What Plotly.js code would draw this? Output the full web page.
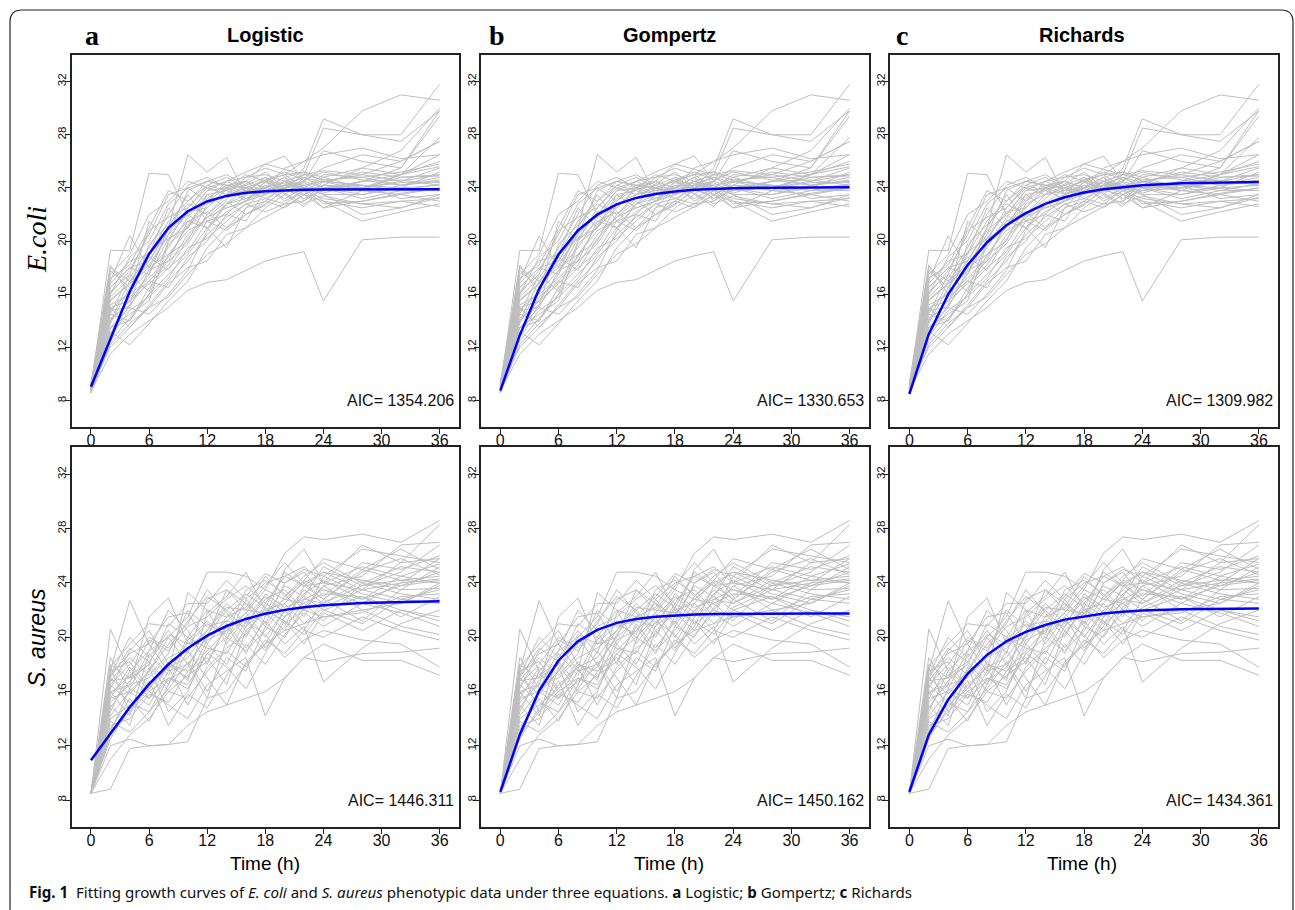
<!DOCTYPE html>
<html>
<head>
<meta charset="utf-8">
<script src="https://cdn.plot.ly/plotly-3.0.1.min.js"></script>
<style>
  html, body { margin: 0; padding: 0; background: #ffffff; }
  #fig { width: 1295px; height: 910px; }
</style>
</head>
<body>
<div id="fig"></div>
<script>
// Sampling times (h)
const hours = [0, 2, 4, 6, 8, 10, 12, 14, 16, 18, 20, 22, 24, 28, 32, 36];

// Observed phenotype trajectories, one row per strain, values at `hours`
const ecoliCurves = [
  [8.7, 11.5, 13.0, 14.0, 15.0, 16.3, 16.9, 17.1, 17.8, 18.5, 18.9, 19.2, 15.5, 20.1, 20.3, 20.3],
  [9.0, 19.3, 19.3, 25.1, 25.0, 22.0, 21.0, 22.8, 23.5, 24.0, 24.5, 25.0, 28.5, 28.0, 28.0, 31.8],
  [9.2, 16.5, 18.0, 17.5, 21.0, 26.5, 25.2, 26.3, 23.5, 24.0, 24.8, 23.8, 24.5, 25.0, 26.0, 27.5],
  [8.9, 14.0, 15.5, 16.8, 18.2, 20.5, 21.8, 22.5, 23.0, 24.5, 25.0, 26.0, 27.0, 29.8, 31.0, 30.6],
  [9.1, 13.2, 12.2, 13.8, 15.5, 17.0, 19.5, 21.0, 22.0, 22.7, 24.0, 25.5, 29.2, 28.0, 27.5, 29.8],
  [8.8, 15.8, 17.2, 19.5, 22.0, 24.2, 24.8, 24.0, 24.5, 25.8, 26.4, 24.5, 26.8, 26.0, 25.5, 29.4],
  [9.0, 17.0, 20.4, 18.0, 20.5, 23.8, 24.5, 24.2, 23.6, 24.8, 23.5, 22.6, 24.2, 25.5, 26.8, 30.0],
  [9.3, 18.2, 16.0, 21.5, 20.0, 22.5, 24.0, 24.5, 24.8, 25.5, 25.0, 25.2, 24.8, 24.0, 25.0, 27.8],
  [8.6, 12.5, 14.2, 16.0, 17.5, 19.0, 21.0, 22.2, 23.0, 23.8, 24.2, 24.0, 23.8, 24.5, 24.6, 24.2],
  [9.0, 14.8, 15.0, 17.8, 19.5, 21.8, 23.5, 23.8, 24.5, 24.0, 24.8, 25.2, 24.5, 24.2, 24.0, 23.8],
  [8.7, 13.5, 14.5, 15.5, 19.8, 21.0, 22.5, 23.9, 24.2, 23.5, 24.5, 24.0, 25.0, 24.8, 25.2, 25.8],
  [9.2, 16.0, 17.8, 20.5, 23.5, 24.0, 23.0, 24.5, 25.2, 25.8, 25.4, 25.0, 25.3, 25.0, 24.5, 25.5],
  [8.8, 15.0, 13.5, 15.2, 17.0, 18.5, 20.5, 21.8, 22.8, 23.2, 24.0, 24.5, 24.0, 23.5, 24.2, 24.5],
  [9.1, 13.8, 16.5, 18.5, 20.8, 22.0, 23.8, 24.0, 23.5, 24.2, 23.8, 24.2, 24.5, 23.8, 23.5, 24.0],
  [8.9, 17.5, 19.0, 22.0, 23.0, 24.5, 24.0, 23.5, 24.8, 25.0, 24.5, 23.8, 23.2, 22.8, 23.0, 23.2],
  [9.0, 14.5, 14.0, 16.5, 18.0, 19.2, 21.5, 20.8, 22.0, 23.0, 22.5, 23.5, 24.2, 24.0, 24.5, 25.0],
  [8.6, 13.0, 15.8, 17.0, 16.5, 18.8, 20.0, 22.0, 21.5, 23.8, 24.5, 24.2, 23.0, 22.5, 23.0, 22.6],
  [9.3, 16.8, 18.5, 19.0, 21.5, 23.0, 24.2, 24.8, 24.0, 23.6, 24.2, 24.8, 24.0, 24.5, 25.0, 26.0],
  [8.8, 15.5, 16.8, 18.0, 19.0, 20.0, 22.8, 23.5, 24.0, 24.5, 23.8, 24.0, 23.5, 22.0, 22.5, 23.5],
  [9.0, 12.0, 13.5, 15.0, 16.8, 18.0, 18.5, 20.5, 21.0, 22.5, 23.5, 24.8, 24.0, 24.2, 23.8, 24.3],
  [9.1, 14.2, 15.2, 19.8, 21.2, 22.8, 22.0, 23.5, 23.8, 24.6, 25.0, 24.0, 24.8, 25.5, 25.0, 25.6],
  [8.7, 16.2, 17.5, 16.2, 20.0, 21.5, 21.0, 19.5, 22.5, 23.0, 24.2, 24.5, 25.5, 26.5, 26.0, 27.5],
  [9.2, 15.2, 16.0, 17.2, 18.8, 21.2, 23.2, 24.2, 24.5, 23.5, 24.0, 23.2, 23.8, 24.0, 24.8, 24.9],
  [8.9, 13.5, 15.0, 14.5, 16.0, 17.8, 20.8, 22.8, 23.2, 24.0, 25.5, 26.0, 26.5, 27.0, 26.2, 26.5],
  [9.0, 17.8, 16.5, 19.0, 22.5, 21.0, 23.5, 22.5, 23.0, 24.2, 23.0, 23.8, 22.5, 23.0, 23.5, 23.0],
  [8.6, 14.0, 17.0, 18.8, 17.8, 20.2, 21.8, 23.0, 22.0, 22.8, 23.8, 23.5, 24.2, 23.8, 24.0, 24.2],
  [9.3, 16.0, 18.8, 20.0, 22.8, 24.0, 24.5, 25.0, 24.2, 24.8, 24.0, 25.0, 24.6, 24.8, 24.2, 24.6],
  [8.8, 12.8, 14.8, 15.8, 17.2, 19.5, 20.2, 21.5, 22.8, 22.2, 22.8, 23.0, 24.0, 23.2, 23.8, 23.8],
  [9.0, 15.0, 15.5, 17.5, 20.2, 22.2, 22.5, 24.0, 23.0, 23.5, 24.5, 23.5, 23.0, 21.5, 22.2, 22.8],
  [9.1, 13.5, 14.0, 16.0, 19.0, 20.8, 21.5, 22.0, 23.5, 24.4, 24.0, 24.4, 23.6, 24.5, 25.5, 29.8],
  [8.7, 16.5, 18.0, 18.5, 21.0, 23.5, 21.5, 22.8, 24.0, 23.2, 22.8, 23.8, 24.2, 24.0, 24.4, 24.4],
  [9.2, 14.8, 16.2, 17.8, 18.5, 19.8, 22.0, 23.2, 24.3, 25.2, 24.0, 24.2, 23.5, 23.5, 24.0, 25.2],
  [8.9, 18.0, 17.0, 18.2, 20.5, 22.0, 23.8, 24.5, 23.8, 24.0, 24.8, 23.0, 24.5, 24.2, 23.2, 23.5],
  [9.0, 13.0, 15.2, 17.0, 18.5, 21.5, 22.2, 21.0, 22.5, 24.0, 23.2, 24.0, 22.8, 23.0, 23.6, 24.0],
  [8.8, 15.6, 16.8, 19.2, 20.2, 21.0, 23.0, 24.0, 25.0, 24.5, 24.3, 24.8, 24.4, 25.2, 24.8, 25.0],
  [9.1, 14.5, 17.5, 20.8, 21.8, 22.5, 24.2, 23.8, 23.2, 23.8, 23.6, 22.8, 23.4, 22.8, 22.5, 23.3],
  [8.6, 12.2, 13.8, 15.0, 15.8, 17.5, 19.0, 19.8, 21.0, 21.8, 22.6, 23.5, 22.5, 23.8, 25.0, 26.5],
  [9.3, 17.2, 18.2, 21.0, 23.8, 23.0, 24.5, 24.2, 24.0, 24.6, 25.2, 24.6, 25.2, 24.6, 24.2, 24.8]
];

const aureusCurves = [
  [8.5, 8.8, 11.8, 12.0, 12.1, 13.5, 14.5, 15.0, 15.5, 16.0, 17.0, 18.5, 18.2, 18.8, 18.9, 19.2],
  [8.5, 20.6, 17.5, 19.0, 20.0, 21.5, 24.8, 24.8, 24.5, 23.5, 26.2, 27.4, 27.2, 27.6, 27.0, 28.6],
  [8.5, 17.5, 22.7, 19.5, 17.5, 23.3, 22.0, 21.5, 23.0, 24.7, 24.0, 25.0, 24.5, 26.5, 26.0, 25.5],
  [8.5, 16.0, 16.5, 21.5, 22.9, 19.5, 20.0, 23.5, 22.5, 21.5, 25.0, 26.5, 24.0, 23.5, 25.5, 28.3],
  [8.5, 12.0, 12.5, 12.0, 12.1, 12.3, 15.5, 16.0, 18.0, 19.5, 20.5, 21.0, 21.5, 22.0, 22.5, 24.0],
  [8.5, 15.5, 17.8, 16.0, 15.0, 14.0, 16.5, 17.5, 18.5, 14.2, 17.0, 18.5, 19.5, 18.3, 18.3, 17.2],
  [8.5, 17.8, 14.5, 16.5, 17.8, 18.5, 20.5, 22.5, 21.0, 22.8, 23.5, 22.0, 23.8, 24.5, 26.8, 27.0],
  [8.5, 14.8, 16.8, 18.0, 21.0, 20.0, 22.0, 19.5, 21.5, 23.0, 21.8, 23.5, 22.5, 23.8, 24.2, 24.5],
  [8.5, 16.5, 15.2, 14.5, 17.0, 16.5, 18.8, 20.0, 19.0, 20.5, 22.5, 21.0, 22.2, 23.5, 22.8, 23.5],
  [8.5, 13.5, 14.0, 15.8, 15.2, 17.5, 18.5, 16.5, 20.5, 21.8, 20.5, 22.8, 23.5, 22.5, 24.0, 25.8],
  [8.5, 18.0, 17.0, 19.8, 19.0, 20.8, 21.5, 22.8, 23.8, 22.5, 24.5, 23.8, 22.8, 25.0, 24.2, 24.0],
  [8.5, 11.0, 12.8, 14.0, 16.0, 15.5, 17.5, 19.0, 17.8, 19.8, 18.8, 20.5, 20.0, 21.5, 20.5, 19.8],
  [8.5, 16.8, 18.5, 17.2, 18.8, 22.0, 20.8, 21.2, 22.5, 20.8, 23.0, 24.5, 25.5, 24.0, 25.2, 24.8],
  [8.5, 15.0, 13.5, 17.8, 14.5, 16.0, 19.5, 18.0, 20.8, 22.0, 21.2, 19.5, 21.8, 20.5, 22.0, 21.5],
  [8.5, 17.2, 20.0, 18.5, 20.5, 18.8, 22.8, 23.5, 22.0, 23.8, 25.5, 24.0, 24.8, 24.2, 23.5, 25.2],
  [8.5, 13.2, 15.5, 13.8, 16.5, 19.0, 17.0, 15.0, 18.2, 19.5, 22.0, 23.0, 22.0, 21.0, 22.8, 22.5],
  [8.5, 16.2, 19.0, 20.5, 18.0, 17.0, 19.8, 20.5, 21.8, 23.5, 22.8, 22.5, 23.2, 23.0, 21.5, 23.0],
  [8.5, 14.2, 16.0, 15.0, 17.5, 18.0, 15.5, 19.8, 22.8, 21.0, 24.0, 24.8, 23.0, 25.5, 25.0, 26.0],
  [8.5, 17.0, 15.8, 17.5, 19.5, 21.0, 23.5, 21.8, 20.0, 22.5, 21.5, 23.2, 24.2, 22.8, 23.8, 24.2],
  [8.5, 12.5, 14.8, 16.8, 13.5, 15.8, 14.8, 17.2, 19.5, 18.0, 20.2, 21.8, 20.8, 22.5, 21.8, 20.8],
  [8.5, 15.8, 17.2, 18.2, 20.2, 19.5, 21.0, 20.2, 23.5, 24.2, 23.2, 21.5, 24.5, 23.2, 22.5, 23.8],
  [8.5, 18.5, 16.2, 19.0, 22.0, 20.5, 18.0, 21.0, 19.2, 21.2, 19.5, 20.8, 16.7, 19.2, 21.0, 22.0],
  [8.5, 14.5, 17.5, 15.5, 16.8, 17.8, 20.2, 22.0, 20.5, 19.0, 21.5, 22.5, 21.2, 24.0, 23.2, 22.8],
  [8.5, 17.5, 18.2, 16.2, 18.2, 16.8, 21.8, 23.0, 24.8, 22.0, 22.5, 24.2, 25.8, 25.0, 26.5, 25.0],
  [8.5, 16.0, 14.2, 18.8, 17.2, 20.0, 19.2, 18.8, 21.2, 20.2, 18.5, 19.8, 20.5, 19.8, 19.5, 17.8],
  [8.5, 13.8, 13.0, 14.5, 16.2, 18.2, 16.0, 18.5, 17.5, 20.8, 20.0, 22.2, 23.8, 22.0, 20.8, 20.2],
  [8.5, 17.8, 19.5, 21.0, 20.8, 22.5, 22.5, 24.2, 22.8, 24.0, 24.5, 25.2, 24.0, 26.8, 25.5, 25.8],
  [8.5, 15.2, 16.5, 17.0, 18.5, 19.2, 20.5, 22.2, 22.0, 21.8, 22.8, 24.0, 22.8, 24.8, 25.8, 24.6],
  [8.5, 16.8, 17.0, 18.0, 16.0, 17.2, 18.2, 20.8, 18.8, 21.5, 23.8, 23.0, 25.2, 23.8, 24.8, 26.8],
  [8.5, 14.0, 15.0, 16.2, 17.8, 15.0, 17.8, 19.2, 20.2, 22.2, 21.0, 22.0, 21.5, 21.8, 23.0, 23.2],
  [8.5, 17.2, 18.8, 19.5, 21.5, 21.8, 19.5, 21.5, 22.2, 24.5, 23.0, 24.2, 23.5, 22.8, 24.5, 24.0],
  [8.5, 12.8, 14.5, 16.0, 17.0, 16.2, 18.8, 17.8, 16.2, 18.8, 21.2, 20.2, 22.0, 23.0, 22.0, 21.2],
  [8.5, 16.5, 18.0, 20.0, 19.2, 21.2, 23.0, 22.0, 23.2, 22.2, 24.8, 23.8, 24.8, 23.5, 24.0, 24.3],
  [8.5, 15.5, 16.0, 17.5, 20.0, 18.0, 20.0, 21.2, 20.8, 23.2, 22.2, 22.8, 22.5, 24.2, 23.8, 24.8],
  [8.5, 17.0, 19.2, 18.2, 16.5, 19.8, 21.2, 20.0, 21.5, 19.2, 20.8, 23.8, 24.0, 25.2, 24.5, 25.4],
  [8.5, 13.0, 16.2, 15.5, 18.0, 17.5, 19.0, 20.5, 21.8, 20.0, 22.0, 20.5, 22.8, 21.2, 23.5, 23.6]
];

// Fitted mean growth curves at `hours`
const ecoliLogistic  = [9.05, 12.69, 16.19, 19.03, 21.00, 22.25, 22.98, 23.40, 23.63, 23.75, 23.82, 23.86, 23.88, 23.89, 23.90, 23.90];
const ecoliGompertz  = [8.75, 12.91, 16.39, 18.99, 20.80, 21.99, 22.76, 23.25, 23.55, 23.74, 23.86, 23.93, 23.98, 24.02, 24.04, 24.05];
const ecoliRichards  = [8.50, 13.00, 16.00, 18.20, 19.90, 21.20, 22.10, 22.80, 23.30, 23.65, 23.90, 24.05, 24.20, 24.35, 24.42, 24.45];
const aureusLogistic = [10.93, 12.93, 14.84, 16.55, 18.01, 19.19, 20.12, 20.83, 21.35, 21.74, 22.02, 22.22, 22.36, 22.53, 22.62, 22.66];
const aureusGompertz = [8.60, 12.80, 16.06, 18.29, 19.70, 20.55, 21.06, 21.35, 21.52, 21.62, 21.68, 21.71, 21.73, 21.74, 21.75, 21.75];
const aureusRichards = [8.60, 12.80, 15.40, 17.30, 18.70, 19.70, 20.40, 20.90, 21.30, 21.55, 21.75, 21.88, 21.97, 22.06, 22.10, 22.12];

const modelNames   = ['Logistic', 'Gompertz', 'Richards'];
const panelLetters = ['a', 'b', 'c'];
const ecoliAIC     = ['1354.206', '1330.653', '1309.982'];
const aureusAIC    = ['1446.311', '1450.162', '1434.361'];
const xTicks = [0, 6, 12, 18, 24, 30, 36];
const yTicks = [8, 12, 16, 20, 24, 28, 32];

// ---- page geometry (pixels) ----
const W = 1295, H = 910;
const px = p => p / W;
const py = p => 1 - p / H;

const colLeft   = [72, 481.3, 890.3];
const colRight  = [459, 869, 1278.3];
const rowTop    = [55, 447.3];
const rowBottom = [426.7, 826.7];

const rows = [
  { curves: ecoliCurves,  fits: [ecoliLogistic, ecoliGompertz, ecoliRichards],    aic: ecoliAIC },
  { curves: aureusCurves, fits: [aureusLogistic, aureusGompertz, aureusRichards], aic: aureusAIC }
];

const data = [];
const layout = {
  width: W, height: H,
  margin: { l: 0, r: 0, t: 0, b: 0 },
  paper_bgcolor: '#ffffff',
  plot_bgcolor: '#ffffff',
  showlegend: false,
  font: { family: 'Liberation Sans, Arial, sans-serif', color: '#111' },
  annotations: [],
  shapes: []
};

rows.forEach((row, r) => {
  for (let c = 0; c < 3; c++) {
    const k = r * 3 + c + 1;
    const xa = 'x' + (k === 1 ? '' : k);
    const ya = 'y' + (k === 1 ? '' : k);

    // all strains in one trace, separated by gaps
    const gx = [], gy = [];
    row.curves.forEach(curve => {
      curve.forEach((v, i) => { gx.push(hours[i]); gy.push(v); });
      gx.push(null); gy.push(null);
    });
    data.push({
      type: 'scatter', mode: 'lines', x: gx, y: gy,
      xaxis: xa, yaxis: ya, connectgaps: false,
      line: { color: '#bebebe', width: 1 }, hoverinfo: 'skip'
    });
    data.push({
      type: 'scatter', mode: 'lines', x: hours, y: row.fits[c],
      xaxis: xa, yaxis: ya,
      line: { color: '#0000ff', width: 2.5 }
    });

    const axCommon = {
      showline: true, mirror: true, linecolor: '#222', linewidth: 2,
      ticks: 'outside', ticklen: 5, tickwidth: 1, tickcolor: '#222',
      showgrid: false, zeroline: false, fixedrange: true
    };
    layout['xaxis' + (k === 1 ? '' : k)] = Object.assign({}, axCommon, {
      domain: [px(colLeft[c]), px(colRight[c])],
      anchor: ya, range: [-1.96, 38.0],
      tickmode: 'array', tickvals: xTicks, ticktext: xTicks.map(String),
      tickfont: { size: 16, color: '#111' },
      ticklabelstandoff: -7
    });
    layout['yaxis' + (k === 1 ? '' : k)] = Object.assign({}, axCommon, {
      domain: [py(rowBottom[r]), py(rowTop[r])],
      anchor: xa, range: [6.04, 34.0],
      tickmode: 'array', tickvals: yTicks, ticktext: yTicks.map(String),
      tickangle: -90, tickfont: { size: 11.5, color: '#111' },
      ticklabelstandoff: -6
    });

    // AIC label inside the panel
    layout.annotations.push({
      xref: 'paper', yref: 'paper',
      x: px(colRight[c] - 3), y: py(r === 0 ? 400 : 800),
      xanchor: 'right', yanchor: 'middle', showarrow: false,
      text: 'AIC= ' + row.aic[c],
      font: { family: 'Liberation Sans, Arial, sans-serif', size: 16, color: '#111' }
    });
  }
});

const titleCenters = [265, 669, 1082];
const letterX = [92, 497, 902];
for (let c = 0; c < 3; c++) {
  layout.annotations.push({
    xref: 'paper', yref: 'paper', x: px(letterX[c]), y: py(36),
    xanchor: 'center', yanchor: 'middle', showarrow: false,
    text: '<b>' + panelLetters[c] + '</b>',
    font: { family: 'Liberation Serif, Times New Roman, serif', size: 28, color: '#000' }
  });
  layout.annotations.push({
    xref: 'paper', yref: 'paper', x: px(titleCenters[c]), y: py(35),
    xanchor: 'center', yanchor: 'middle', showarrow: false,
    text: '<b>' + modelNames[c] + '</b>',
    font: { family: 'Liberation Sans, Arial, sans-serif', size: 20, color: '#000' }
  });
  layout.annotations.push({
    xref: 'paper', yref: 'paper', x: px(titleCenters[c]), y: py(863),
    xanchor: 'center', yanchor: 'middle', showarrow: false,
    text: 'Time (h)',
    font: { family: 'Liberation Sans, Arial, sans-serif', size: 19, color: '#000' }
  });
}

// Row labels
layout.annotations.push({
  xref: 'paper', yref: 'paper', x: px(37), y: py(240),
  xanchor: 'center', yanchor: 'middle', showarrow: false, textangle: -90,
  text: '<i>E.coli</i>',
  font: { family: 'Liberation Serif, Times New Roman, serif', size: 28, color: '#000' }
});
layout.annotations.push({
  xref: 'paper', yref: 'paper', x: px(37), y: py(638),
  xanchor: 'center', yanchor: 'middle', showarrow: false, textangle: -90,
  text: '<i>S. aureus</i>',
  font: { family: 'Liberation Sans, Arial, sans-serif', size: 23, color: '#000' }
});

// Figure caption
layout.annotations.push({
  xref: 'paper', yref: 'paper', x: px(27), y: py(892),
  xanchor: 'left', yanchor: 'middle', showarrow: false,
  text: '<b>Fig. 1</b>  Fitting growth curves of <i>E. coli</i> and <i>S. aureus</i> phenotypic data under three equations. <b>a</b> Logistic; <b>b</b> Gompertz; <b>c</b> Richards',
  font: { family: 'Noto Sans, Open Sans, sans-serif', size: 15.1, color: '#111' }
});

// Rounded frame around the figure
const fl = px(10), fr = px(1293), ft = py(10), fb = py(915);
const rx = px(12), ry = 12 / H;
layout.shapes.push({
  type: 'path', xref: 'paper', yref: 'paper',
  path: `M ${fl} ${fb} L ${fl} ${ft - ry} Q ${fl} ${ft} ${fl + rx} ${ft} L ${fr - rx} ${ft} Q ${fr} ${ft} ${fr} ${ft - ry} L ${fr} ${fb}`,
  line: { color: '#222', width: 1.2 }
});

Plotly.newPlot('fig', data, layout, { displayModeBar: false, staticPlot: true });
</script>
</body>
</html>
